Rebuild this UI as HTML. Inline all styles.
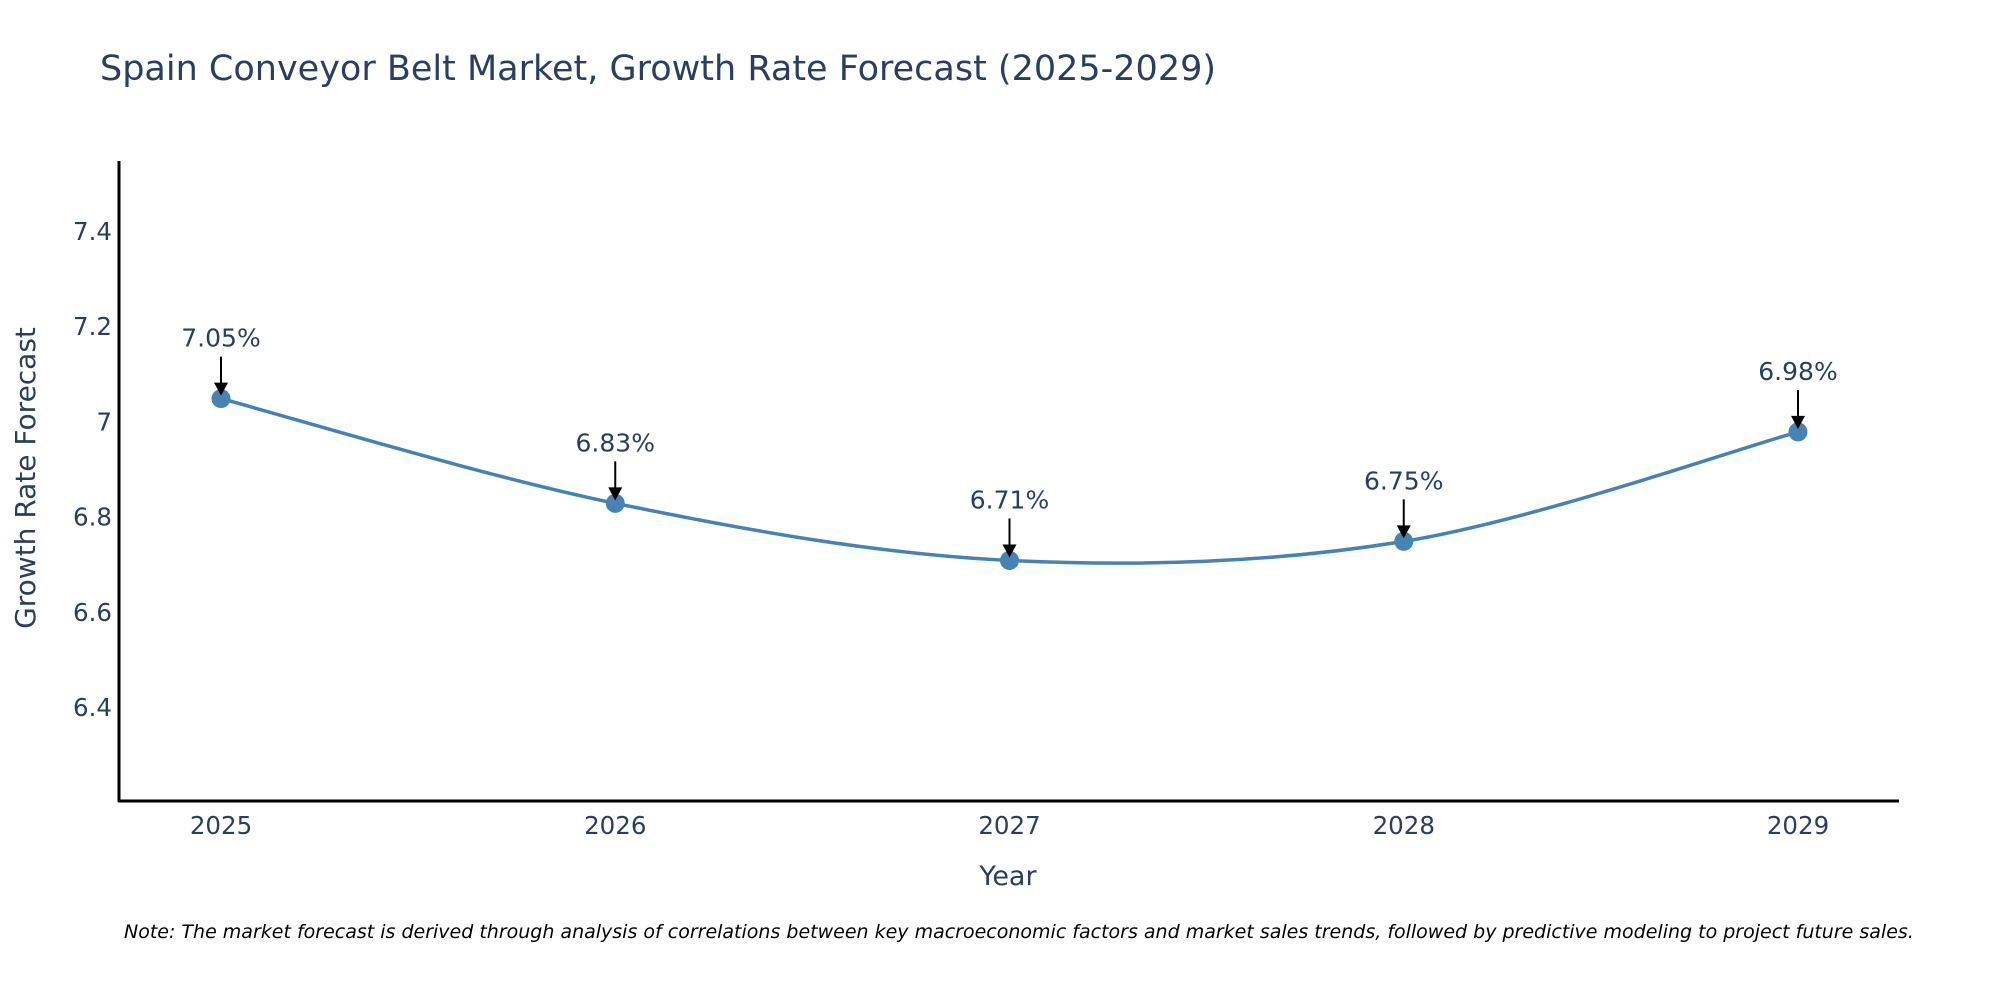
<!DOCTYPE html>
<html><head><meta charset="utf-8">
<style>
html,body{margin:0;padding:0;background:#fff;}
svg{display:block;font-family:"DejaVu Sans","Liberation Sans",sans-serif;}
</style></head>
<body>
<svg id="chart" width="2000" height="1000" viewBox="0 0 2000 1000" xmlns="http://www.w3.org/2000/svg">
<text x="100" y="80" font-size="35" fill="#2a3f5f">Spain Conveyor Belt Market, Growth Rate Forecast (2025-2029)</text>
<g id="yticks"></g>
<g id="xticks"></g>
<line x1="119" y1="161" x2="119" y2="802" stroke="#000" stroke-width="3"/>
<line x1="118" y1="801" x2="1899" y2="801" stroke="#000" stroke-width="3"/>
<g id="series"></g>
<g id="annots"></g>
<text x="1008" y="885" font-size="27" fill="#2a3f5f" text-anchor="middle">Year</text>
<text transform="translate(35,478) rotate(-90)" font-size="28" fill="#2a3f5f" text-anchor="middle">Growth Rate Forecast</text>
<text x="124" y="938" font-size="19" font-style="italic" fill="#000">Note: The market forecast is derived through analysis of correlations between key macroeconomic factors and market sales trends, followed by predictive modeling to project future sales.</text>
</svg>
<script>
const years = [2025, 2026, 2027, 2028, 2029];
const values = [7.05, 6.83, 6.71, 6.75, 6.98];
const labels = ["7.05%", "6.83%", "6.71%", "6.75%", "6.98%"];
const yTickValues = [6.4, 6.6, 6.8, 7, 7.2, 7.4];
const yTickLabels = ["6.4", "6.6", "6.8", "7", "7.2", "7.4"];

const NS = "http://www.w3.org/2000/svg";
const xPx = v => 221 + (v - 2025) * (1798 - 221) / 4;
const yPx = v => 708 - (v - 6.4) * (708 - 232) / 1.0;
function mk(tag, attrs, parent) {
  const e = document.createElementNS(NS, tag);
  for (const k in attrs) e.setAttribute(k, attrs[k]);
  parent.appendChild(e);
  return e;
}
const yt = document.getElementById('yticks');
yTickValues.forEach((v, i) => {
  const t = mk('text', {x: 112, y: yPx(v) + 8, 'font-size': 24.5, fill: '#2a3f5f', 'text-anchor': 'end'}, yt);
  
  
  t.textContent = yTickLabels[i];
});
const xt = document.getElementById('xticks');
years.forEach(y => {
  const t = mk('text', {x: xPx(y), y: 834, 'font-size': 24.5, fill: '#2a3f5f', 'text-anchor': 'middle'}, xt);
  
  
  t.textContent = String(y);
});
const pts = years.map((y, i) => [xPx(y), yPx(values[i])]);
let d = `M${pts[0][0]},${pts[0][1]}`;
for (let i = 0; i < pts.length - 1; i++) {
  const p0 = pts[i - 1] || pts[i], p1 = pts[i], p2 = pts[i + 1], p3 = pts[i + 2] || pts[i + 1];
  const c1 = [p1[0] + (p2[0] - p0[0]) / 6, p1[1] + (p2[1] - p0[1]) / 6];
  const c2 = [p2[0] - (p3[0] - p1[0]) / 6, p2[1] - (p3[1] - p1[1]) / 6];
  d += ` C${c1[0]},${c1[1]} ${c2[0]},${c2[1]} ${p2[0]},${p2[1]}`;
}
const s = document.getElementById('series');
const line = mk('path', {d: d, fill: 'none', stroke: '#4682b4', 'stroke-width': 3.5}, s);


pts.forEach(p => {
  const c = mk('circle', {cx: p[0], cy: p[1], r: 9.5, fill: '#4682b4'}, s);
  
  
});
const an = document.getElementById('annots');
pts.forEach((p, i) => {
  mk('line', {x1: p[0], y1: p[1] - 42, x2: p[0], y2: p[1] - 14, stroke: '#000', 'stroke-width': 2}, an);
  const a = mk('polygon', {points: `${p[0]-7},${p[1]-16} ${p[0]+7},${p[1]-16} ${p[0]},${p[1]-3}`, fill: '#000'}, an);
  
  
  const t = mk('text', {x: p[0], y: p[1] - 52, 'font-size': 25, fill: '#2a3f5f', 'text-anchor': 'middle'}, an);
  
  
  t.textContent = labels[i];
});
</script>
</body></html>
